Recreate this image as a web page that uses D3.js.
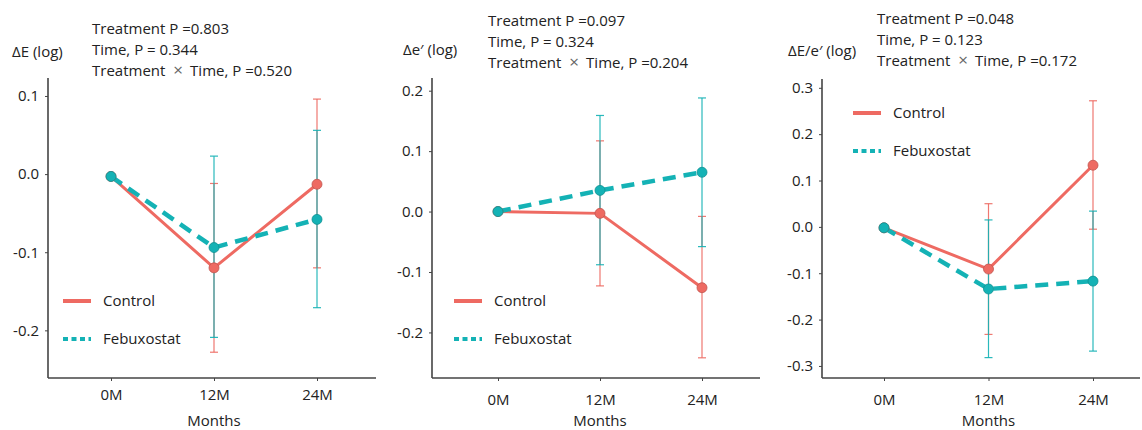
<!DOCTYPE html>
<html>
<head>
<meta charset="utf-8">
<script src="https://cdn.jsdelivr.net/npm/d3@7"></script>
<style>
  body { margin: 0; background: #fff; }
  svg text { font-family: "Open Sans", "Noto Sans", sans-serif; font-size: 15px; fill: #222; }
</style>
</head>
<body>
<svg width="1142" height="430"></svg>
<script>
const months = ["0M", "12M", "24M"];
const groups = ["Control", "Febuxostat"];

// Panel 1: ΔE (log)
const dEControl = [-0.003, -0.120, -0.013];
const dEControlLow = [null, -0.228, -0.120];
const dEControlHigh = [null, -0.012, 0.096];
const dEFebux = [-0.003, -0.094, -0.058];
const dEFebuxLow = [null, -0.209, -0.171];
const dEFebuxHigh = [null, 0.023, 0.056];
const dETicks = [-0.2, -0.1, 0.0, 0.1];
const dEPvalues = ["0.803", "0.344", "0.520"];

// Panel 2: Δe' (log)
const deControl = [0.000, -0.003, -0.126];
const deControlLow = [null, -0.123, -0.242];
const deControlHigh = [null, 0.117, -0.008];
const deFebux = [0.000, 0.035, 0.065];
const deFebuxLow = [null, -0.088, -0.058];
const deFebuxHigh = [null, 0.159, 0.188];
const deTicks = [-0.2, -0.1, 0.0, 0.1, 0.2];
const dePvalues = ["0.097", "0.324", "0.204"];

// Panel 3: ΔE/e' (log)
const ratioControl = [-0.002, -0.091, 0.133];
const ratioControlLow = [null, -0.232, -0.005];
const ratioControlHigh = [null, 0.050, 0.272];
const ratioFebux = [-0.002, -0.134, -0.117];
const ratioFebuxLow = [null, -0.282, -0.268];
const ratioFebuxHigh = [null, 0.015, 0.034];
const ratioTicks = [-0.3, -0.2, -0.1, 0.0, 0.1, 0.2, 0.3];
const ratioPvalues = ["0.048", "0.123", "0.172"];

const ctrlColor = "#EE6A62";
const febColor = "#14B2B5";

const svg = d3.select("svg");

// layout of the three panels
const panels = [
    { ylab: "\u0394E (log)", ylabX: 12, ylabY: 57, statX: 92, statY: 34,
      axisX: 48, axisRight: 376, top: 78, bottom: 378, yDomain: [-0.261, 0.123],
      xRange: [111, 317], tickY: 400, titleY: 426, legX: 63, legY: 301,
      ticks: dETicks, pvals: dEPvalues,
      ctrl: [dEControl, dEControlLow, dEControlHigh], feb: [dEFebux, dEFebuxLow, dEFebuxHigh] },
    { ylab: "\u0394e\u2032 (log)", ylabX: 403, ylabY: 55, statX: 488, statY: 26,
      axisX: 432, axisRight: 760, top: 78, bottom: 378, yDomain: [-0.2754, 0.221],
      xRange: [498, 702], tickY: 405, titleY: 426, legX: 454, legY: 301,
      ticks: deTicks, pvals: dePvalues,
      ctrl: [deControl, deControlLow, deControlHigh], feb: [deFebux, deFebuxLow, deFebuxHigh] },
    { ylab: "\u0394E/e\u2032 (log)", ylabX: 788, ylabY: 56, statX: 877, statY: 24,
      axisX: 822, axisRight: 1140, top: 79, bottom: 378, yDomain: [-0.326, 0.319],
      xRange: [884, 1093], tickY: 405, titleY: 426, legX: 853, legY: 113,
      ticks: ratioTicks, pvals: ratioPvalues,
      ctrl: [ratioControl, ratioControlLow, ratioControlHigh], feb: [ratioFebux, ratioFebuxLow, ratioFebuxHigh] }
];

panels.forEach(drawPanel);

function drawPanel(p) {
    const g = svg.append("g");
    const x = d3.scalePoint().domain(months).range(p.xRange);
    const y = d3.scaleLinear().domain(p.yDomain).range([p.bottom, p.top]);

    // y label and statistics text
    g.append("text").attr("x", p.ylabX).attr("y", p.ylabY).text(p.ylab);
    const stat = g.append("text").attr("x", p.statX).attr("y", p.statY);
    stat.append("tspan").attr("x", p.statX).text("Treatment P =" + p.pvals[0]);
    stat.append("tspan").attr("x", p.statX).attr("dy", 21).text("Time, P = " + p.pvals[1]);
    const third = stat.append("tspan").attr("x", p.statX).attr("dy", 21);
    third.append("tspan").text("Treatment");
    third.append("tspan").attr("dx", 8).style("fill", "#666").style("font-size", "17px").text("\u00d7");
    third.append("tspan").attr("dx", 7).text("Time, P =" + p.pvals[2]);

    // axes
    const fmt = d => d3.format(".1f")(d).replace("\u2212", "-");
    const yAxis = d3.axisLeft(y).tickValues(p.ticks).tickFormat(fmt).tickSize(3).tickPadding(6);
    const ya = g.append("g").attr("transform", `translate(${p.axisX},0)`).call(yAxis);
    ya.select(".domain").attr("d", `M0,${p.top}V${p.bottom}`);
    const xa = g.append("g").attr("transform", `translate(0,${p.bottom})`)
        .call(d3.axisBottom(x).tickSize(3).tickPadding(0));
    xa.select(".domain").attr("d", `M${p.axisX},0H${p.axisRight}`);
    xa.selectAll(".tick text").attr("y", p.tickY - p.bottom).attr("dy", 0);
    [ya, xa].forEach(a => {
        a.attr("font-family", null).attr("font-size", null);
        a.select(".domain").attr("stroke", "#444").attr("stroke-width", 1.6);
        a.selectAll(".tick line").attr("stroke", "#444");
        a.selectAll(".tick text").style("fill", "#222");
    });
    g.append("text").attr("x", (x("12M"))).attr("y", p.titleY)
        .attr("text-anchor", "middle").text("Months");

    // error bars
    const series = [[p.ctrl, ctrlColor], [p.feb, febColor]];
    series.forEach(([s, color]) => {
        months.forEach((m, i) => {
            if (s[1][i] === null) return;
            const cx = x(m);
            g.append("line").attr("x1", cx).attr("x2", cx)
                .attr("y1", y(s[1][i])).attr("y2", y(s[2][i]))
                .attr("stroke", color).attr("stroke-width", 1.2).attr("opacity", 0.9);
            [s[1][i], s[2][i]].forEach(v => {
                g.append("line").attr("x1", cx - 4).attr("x2", cx + 4)
                    .attr("y1", y(v)).attr("y2", y(v))
                    .attr("stroke", color).attr("stroke-width", 1.2).attr("opacity", 0.9);
            });
        });
    });

    // lines
    const line = d3.line().x((d, i) => x(months[i])).y(d => y(d));
    g.append("path").datum(p.ctrl[0]).attr("d", line)
        .attr("fill", "none").attr("stroke", ctrlColor).attr("stroke-width", 3);
    g.append("path").datum(p.feb[0]).attr("d", line)
        .attr("fill", "none").attr("stroke", febColor).attr("stroke-width", 4.5)
        .attr("stroke-dasharray", "13,8");

    // points
    series.forEach(([s, color]) => {
        g.selectAll(null).data(s[0]).enter().append("circle")
            .attr("cx", (d, i) => x(months[i])).attr("cy", d => y(d)).attr("r", 5)
            .attr("fill", color).attr("stroke", d3.color(color).darker(0.6)).attr("stroke-width", 0.8);
    });

    // legend
    groups.forEach((name, i) => {
        const ly = p.legY + i * 38;
        g.append("line").attr("x1", p.legX).attr("x2", p.legX + 28)
            .attr("y1", ly).attr("y2", ly)
            .attr("stroke", i === 0 ? ctrlColor : febColor).attr("stroke-width", 4)
            .attr("stroke-dasharray", i === 0 ? null : "5,3.5");
        g.append("text").attr("x", p.legX + 40).attr("y", ly + 5).text(name);
    });
}
</script>
</body>
</html>
